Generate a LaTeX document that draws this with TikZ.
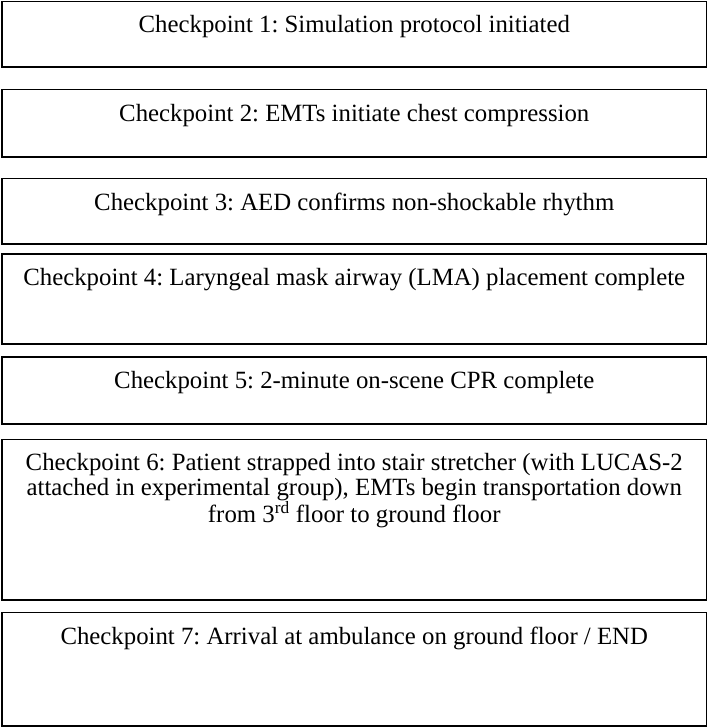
\documentclass[tikz,border=0pt]{standalone}
\usepackage{fontspec}
\setmainfont{Liberation Serif}
\frenchspacing
\begin{document}
\begin{tikzpicture}[x=1pt,y=-1pt,
  cpbox/.style={draw=black,line width=1.2pt},
  cptext/.style={anchor=north,inner sep=0pt,align=center,font=\fontsize{24.8}{25.2}\selectfont}]
\useasboundingbox (0,0) rectangle (709,728);
\def\L{2}\def\R{706.5}\def\C{354.25}
% boxes
\draw[cpbox] (\L,1.5) rectangle (\R,67);
\draw[cpbox] (\L,89.5) rectangle (\R,157);
\draw[cpbox] (\L,178.5) rectangle (\R,244);
\draw[cpbox] (\L,254) rectangle (\R,344);
\draw[cpbox] (\L,357) rectangle (\R,424);
\draw[cpbox] (\L,439.5) rectangle (\R,600);
\draw[cpbox] (\L,612.5) rectangle (\R,726);
% texts
\node[cptext] (t1) at (\C,1.5+13) {\strut Checkpoint 1: Simulation protocol initiated};
\node[cptext] (t2) at (\C,89.5+14) {\strut Checkpoint 2: EMTs initiate chest compression};
\node[cptext] (t3) at (\C,178.5+14) {\strut Checkpoint 3: AED confirms non-shockable rhythm};
\node[cptext] (t4) at (\C,254+14) {\strut Checkpoint 4: Laryngeal mask airway (LMA) placement complete};
\node[cptext] (t5) at (\C,357+14) {\strut Checkpoint 5: 2-minute on-scene CPR complete};
\node[cptext] (t6) at (\C,439.5+13) {\strut Checkpoint 6: Patient strapped into stair stretcher (with LUCAS-2\\attached in experimental group), EMTs begin transportation down\\from 3\textsuperscript{rd} floor to ground floor};
\node[cptext] (t7) at (\C,612.5+14) {\strut Checkpoint 7: Arrival at ambulance on ground floor / END};
\end{tikzpicture}
\end{document}
